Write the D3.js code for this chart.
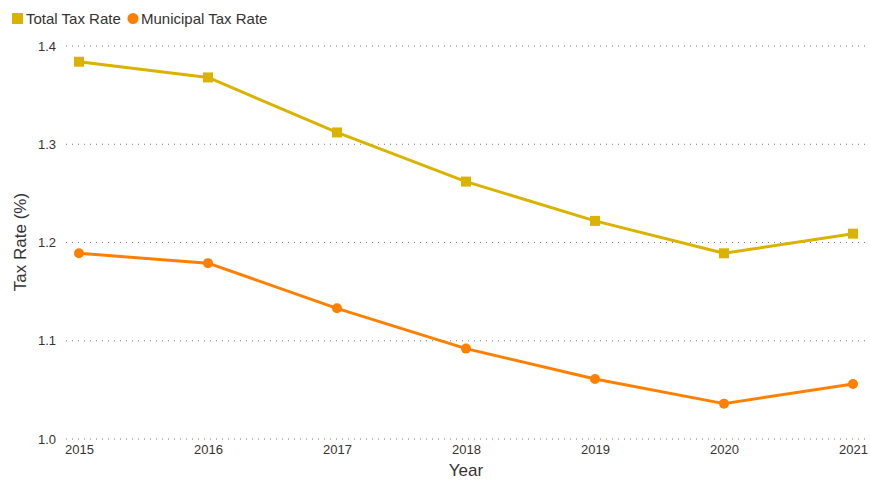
<!DOCTYPE html>
<html><head><meta charset="utf-8">
<script src="https://cdn.jsdelivr.net/npm/d3@7"></script>
<style>body{margin:0;background:#fff;font-family:Arial,"Liberation Sans",sans-serif}</style>
</head><body><svg id="c" width="870" height="480"></svg>
<script>
const years = [2015, 2016, 2017, 2018, 2019, 2020, 2021];
const totalTaxRate = [1.384, 1.368, 1.312, 1.262, 1.222, 1.189, 1.209];
const municipalTaxRate = [1.189, 1.179, 1.133, 1.092, 1.061, 1.036, 1.056];
const yTicks = [1.0, 1.1, 1.2, 1.3, 1.4];
const seriesNames = ["Total Tax Rate", "Municipal Tax Rate"];
const colors = ["#D9B300", "#FF8000"];

const svg = d3.select("#c");
const x = d3.scalePoint().domain(years).range([79, 853]);
const y = d3.scaleLinear().domain([1.0, 1.4]).range([439, 46]);
const gridX0 = 66, gridX1 = 866;

// grid
svg.append("g").selectAll("line").data(yTicks).join("line")
  .attr("x1", gridX0).attr("x2", gridX1)
  .attr("y1", d => y(d)).attr("y2", d => y(d))
  .attr("stroke", "#777").attr("stroke-width", 1)
  .attr("stroke-dasharray", "1,5");

// y axis labels
const yAxis = d3.axisLeft(y).tickValues(yTicks).tickFormat(d3.format(".1f")).tickSize(0).tickPadding(0);
const gy = svg.append("g").attr("transform", "translate(56,0)").call(yAxis);
gy.select(".domain").remove();
gy.selectAll("text").attr("font-size", 13).attr("fill", "#333").attr("font-family", "Arial, 'Liberation Sans', sans-serif");

// x axis labels
const xAxis = d3.axisBottom(x).tickSize(0).tickPadding(0).tickFormat(d3.format("d"));
const gx = svg.append("g").attr("transform", "translate(0,445)").call(xAxis);
gx.select(".domain").remove();
gx.selectAll("text").attr("font-size", 13).attr("fill", "#333").attr("font-family", "Arial, 'Liberation Sans', sans-serif");

// axis titles
svg.append("text").attr("x", 466).attr("y", 476).attr("text-anchor", "middle")
  .attr("font-size", 17).attr("fill", "#333").text("Year");
svg.append("text").attr("transform", "translate(26,242) rotate(-90)").attr("text-anchor", "middle")
  .attr("font-size", 17).attr("fill", "#333").text("Tax Rate (%)");

const line = d3.line().x((d, i) => x(years[i])).y(d => y(d));

// total
svg.append("path").datum(totalTaxRate).attr("d", line).attr("fill", "none")
  .attr("stroke", colors[0]).attr("stroke-width", 3).attr("stroke-linejoin", "round");
svg.append("g").selectAll("rect").data(totalTaxRate).join("rect")
  .attr("x", (d, i) => x(years[i]) - 5).attr("y", d => y(d) - 5)
  .attr("width", 10).attr("height", 10).attr("fill", colors[0]);

// municipal
svg.append("path").datum(municipalTaxRate).attr("d", line).attr("fill", "none")
  .attr("stroke", colors[1]).attr("stroke-width", 3).attr("stroke-linejoin", "round");
svg.append("g").selectAll("circle").data(municipalTaxRate).join("circle")
  .attr("cx", (d, i) => x(years[i])).attr("cy", d => y(d)).attr("r", 5).attr("fill", colors[1]);

// legend
const lg = svg.append("g");
lg.append("rect").attr("x", 12).attr("y", 13).attr("width", 11).attr("height", 11).attr("fill", colors[0]);
lg.append("text").attr("x", 26).attr("y", 24).attr("font-size", 15).attr("fill", "#333").text(seriesNames[0]);
lg.append("circle").attr("cx", 133).attr("cy", 18.5).attr("r", 5.5).attr("fill", colors[1]);
lg.append("text").attr("x", 141).attr("y", 24).attr("font-size", 15).attr("fill", "#333").text(seriesNames[1]);
</script></body></html>
